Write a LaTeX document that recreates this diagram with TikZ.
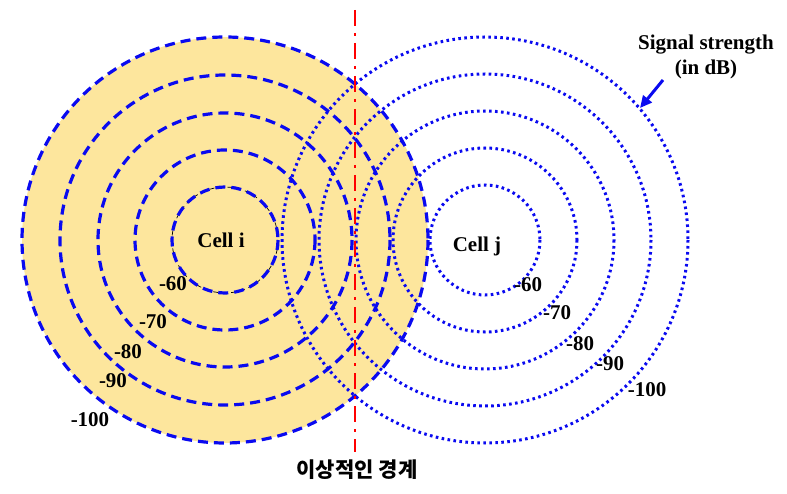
\documentclass[tikz,border=0pt]{standalone}
\usepackage{fontspec}
\setmainfont{Liberation Serif}
\newfontfamily\krfont{Noto Sans CJK KR}
\usetikzlibrary{arrows.meta}
\definecolor{cellfill}{RGB}{253,230,157}
\definecolor{ringblue}{RGB}{10,10,240}
\definecolor{bndred}{RGB}{255,0,0}
\tikzset{
  dashring/.style={draw=ringblue,line width=3.2pt,dash pattern=on 10pt off 6pt},
  dotring/.style={draw=ringblue,line width=3pt,dash pattern=on 2.6pt off 3.4pt},
  lbl/.style={font=\fontsize{21}{24}\selectfont\bfseries,inner sep=0pt},
}
\begin{document}
\begin{tikzpicture}[x=1pt,y=-1pt]
\useasboundingbox (0,0) rectangle (787,494);
\coordinate (ci) at (225,240);
\coordinate (cj) at (485,240);
\fill[cellfill] (ci) circle (203);
\draw[black,line width=0.7pt,dash pattern=on 5pt off 4pt] (ci) circle (53);
\foreach \r in {53,90,127,165,203} \draw[dashring] (ci) circle (\r);
\foreach \r in {55,92,129,166,203} \draw[dotring] (cj) circle (\r);
\draw[bndred,line width=2.8pt,dash pattern=on 16pt off 7pt on 3pt off 7pt] (355,10) -- (355,452);
\node[lbl] (celli) at (221,240) {Cell i};
\node[lbl] (cellj) at (477,246) {Cell j};
\node[lbl] (li60) at (173,284) {-60};
\node[lbl] (li70) at (153,322) {-70};
\node[lbl] (li80) at (128,352) {-80};
\node[lbl] (li90) at (113,381) {-90};
\node[lbl] (li100) at (90,420) {-100};
\node[lbl] (lj60) at (528,285) {-60};
\node[lbl] (lj70) at (557,313) {-70};
\node[lbl] (lj80) at (580,344) {-80};
\node[lbl] (lj90) at (610,364) {-90};
\node[lbl] (lj100) at (647,390) {-100};
\node[lbl,align=center] (sig) at (706,57) {Signal strength\\[1pt](in dB)};
\coordinate (tip) at (640,108);
\draw[ringblue,line width=3pt,-{Triangle[length=12pt,width=11pt]}] (663,80) -- (tip);
\node[font=\krfont\bfseries\fontsize{21}{24}\selectfont,inner sep=0pt] (bnd) at (357,470) {이상적인 경계};
\end{tikzpicture}
\end{document}
